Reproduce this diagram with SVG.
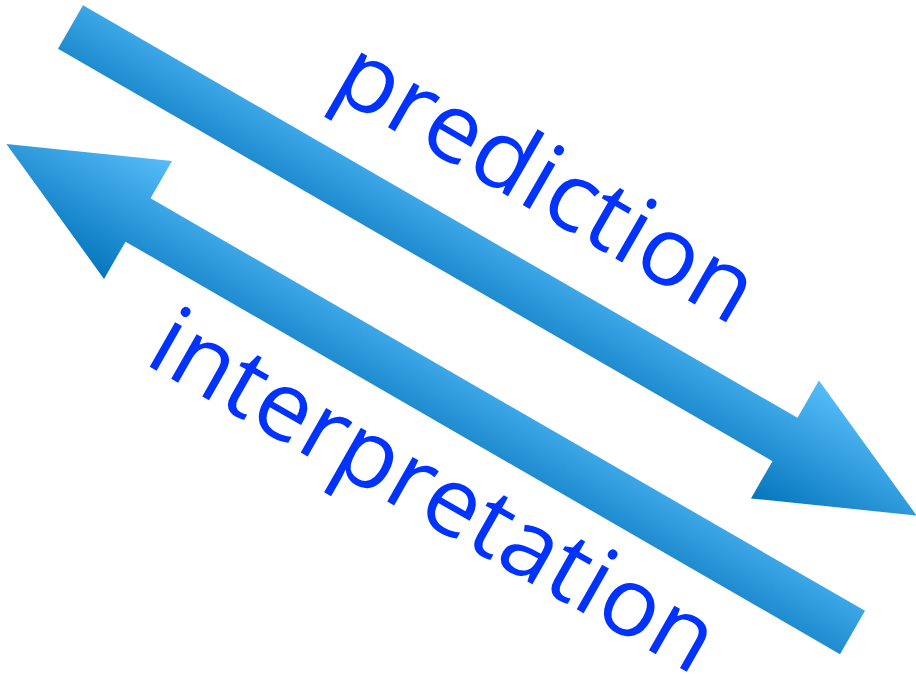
<svg xmlns="http://www.w3.org/2000/svg" width="916" height="677" viewBox="0 0 916 677">
  <defs>
    <linearGradient id="arrowGrad" gradientUnits="userSpaceOnUse" x1="0" y1="-68" x2="0" y2="68">
      <stop offset="0" stop-color="#56bdfa"/>
      <stop offset="1" stop-color="#0575bc"/>
    </linearGradient>
    <polygon id="arrowShape" points="0,-25 825,-25 825,-68 977,0 825,68 825,25 0,25"/>
  </defs>
  <style>
    .arrow { fill: url(#arrowGrad); }
    .label { font-family: "Open Sans", "Noto Sans", sans-serif; font-size: 96px; fill: #0033ff; }
  </style>
  <g id="connectors">
    <g id="arrow-prediction" transform="translate(70.5,27) rotate(30)">
      <use href="#arrowShape" class="arrow"/>
    </g>
    <g id="arrow-interpretation" transform="translate(852.5,632.5) rotate(210) scale(1,-1)">
      <use href="#arrowShape" class="arrow"/>
    </g>
  </g>
  <g id="label-prediction">
    <text class="label" transform="translate(328.6,92.8) rotate(30)" textLength="467" lengthAdjust="spacingAndGlyphs">prediction</text>
  </g>
  <g id="label-interpretation">
    <text class="label" transform="translate(142.5,362.7) rotate(29.6)" textLength="634" lengthAdjust="spacingAndGlyphs">interpretation</text>
  </g>
</svg>
